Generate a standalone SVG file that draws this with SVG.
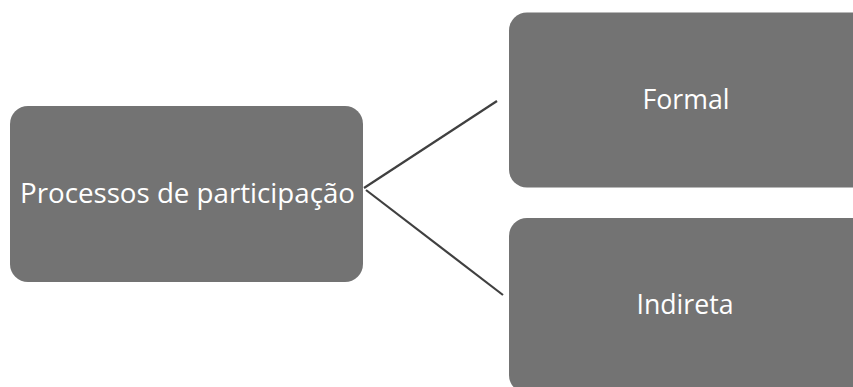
<svg xmlns="http://www.w3.org/2000/svg" width="853" height="387" viewBox="0 0 853 387">
<style>
.box{fill:#737373;}
.lbl{fill:#ffffff;font-family:"Open Sans","Liberation Sans",sans-serif;font-size:28px;text-anchor:middle;}
.con{stroke:#404040;stroke-width:2.2;fill:none;}
</style>
<rect width="853" height="387" fill="#ffffff"/>
<g id="connectors">
<line class="con" x1="364" y1="188" x2="497" y2="101"/>
<line class="con" x1="366" y1="190" x2="503" y2="295"/>
</g>
<g id="node-processos">
<rect class="box" x="10" y="106" width="353" height="176" rx="18"/>
<text class="lbl" x="187.5" y="203" textLength="335" lengthAdjust="spacingAndGlyphs">Processos de participação</text>
</g>
<g id="node-formal">
<rect class="box" x="509" y="12.5" width="360" height="175" rx="18"/>
<text class="lbl" x="686" y="108.5" textLength="87" lengthAdjust="spacingAndGlyphs">Formal</text>
</g>
<g id="node-indireta">
<rect class="box" x="509" y="218" width="360" height="175" rx="18"/>
<text class="lbl" x="685" y="313.5" textLength="97" lengthAdjust="spacingAndGlyphs">Indireta</text>
</g>
</svg>
